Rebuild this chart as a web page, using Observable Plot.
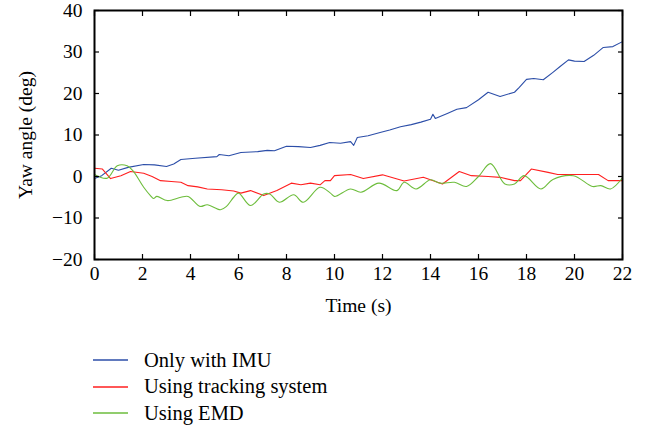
<!DOCTYPE html>
<html>
<head>
<meta charset="utf-8">
<script src="https://cdn.jsdelivr.net/npm/d3@7"></script>
<script src="https://cdn.jsdelivr.net/npm/@observablehq/plot@0.6"></script>
<style>
  html, body { margin: 0; padding: 0; background: #fff; }
  #chart { width: 646px; font-family: "Liberation Serif", "DejaVu Serif", serif; }
  .legend { margin-left: 93px; margin-top: 17px; font-size: 20.5px; color: #000; }
  .legend .row { display: flex; align-items: center; height: 26.5px; }
  .legend svg { margin-right: 16px; }
</style>
</head>
<body>
<div id="chart"></div>
<script>
const seriesNames = ["Only with IMU", "Using tracking system", "Using EMD"];
const seriesColors = ["#2c4ea8", "#ff1f1f", "#6dbd3c"];

const imuTime = [0,0.3,0.7,1.0,1.4,2.05,2.5,3.0,3.3,3.6,4.2,5.1,5.2,5.6,6.1,6.8,7.2,7.5,8.0,8.5,9.0,9.4,9.8,10.25,10.67,10.8,10.95,11.4,11.9,12.3,12.75,13.2,13.6,14.0,14.1,14.2,14.7,15.1,15.5,16.0,16.4,16.9,17.5,17.7,18.0,18.3,18.7,19.1,19.4,19.75,20.0,20.4,20.8,21.2,21.6,22];
const imuYaw = [-0.5,0.2,2,1.5,2.2,2.9,2.8,2.4,3.0,4.1,4.4,4.8,5.3,5.0,5.8,6.0,6.3,6.2,7.3,7.2,7.0,7.5,8.2,8.0,8.4,7.5,9.4,9.8,10.6,11.2,12.0,12.5,13.1,13.8,15.0,14.0,15.2,16.2,16.6,18.5,20.3,19.3,20.3,21.5,23.4,23.6,23.3,25.1,26.5,28.1,27.8,27.7,29.2,31.1,31.3,32.5];

const trackTime = [0,0.33,0.67,1.1,1.5,2.05,2.4,2.75,3.2,3.6,3.9,4.3,4.7,5.3,5.8,6.1,6.5,7.05,7.6,8.2,8.6,9.0,9.4,9.6,9.83,10.0,10.67,11.2,12.0,12.9,13.7,14.5,15.2,15.7,16.4,16.9,17.5,17.75,18.2,18.9,19.3,20.1,21.0,21.4,22];
const trackYaw = [2,1.8,-0.5,0.2,1.2,0.8,0,-1,-1.2,-1.4,-2.2,-2.5,-3,-3.2,-3.5,-4,-3.4,-4.6,-3.4,-1.6,-2,-1.6,-2,-1,-1,0.2,0.5,-0.5,0.4,-1.1,-0.2,-1.8,1.2,0.2,0,-0.2,-1,-1,1.8,1,0.5,0.5,0.5,-1,-1];

const emdTime = [0,0.53,0.95,1.36,1.6,2.05,2.33,2.46,2.6,3.03,3.6,3.9,4.4,4.7,5.25,5.5,5.8,6.0,6.5,7.05,7.3,7.7,8.3,8.7,9.4,9.83,10.0,10.67,11.1,11.85,12.6,12.9,13.4,14.0,14.4,15.0,15.5,16.0,16.5,17.1,17.5,17.9,18.6,19.1,19.95,20.75,21.1,21.5,22];
const emdYaw = [0.5,-0.4,2.6,2.6,1.4,-2.6,-4.6,-5.3,-4.8,-5.8,-5,-4.8,-7.2,-6.8,-8,-7.2,-5,-4,-7,-4.2,-4.2,-6.2,-4.4,-6.2,-2.6,-4,-4.8,-3,-3.8,-1.6,-3.4,-1.4,-3,-0.8,-1.6,-1.4,-2.4,0,3.1,-1.8,-1.8,0.2,-3,-0.7,0.2,-2.4,-2.2,-3,-0.3];

const xTicks = [0,2,4,6,8,10,12,14,16,18,20,22];
const yTicks = [-20,-10,0,10,20,30,40];

const toRows = (ts, vs, name) => ts.map((t, i) => ({t, v: vs[i], name}));
const imu = toRows(imuTime, imuYaw, seriesNames[0]);
const track = toRows(trackTime, trackYaw, seriesNames[1]);
const emd = toRows(emdTime, emdYaw, seriesNames[2]);

const yFmt = d => d < 0 ? "\u2212" + Math.abs(d) : String(d);

const plot = Plot.plot({
  width: 646,
  height: 330,
  marginLeft: 94,
  marginRight: 24,
  marginTop: 10,
  marginBottom: 71,
  style: {fontFamily: '"Liberation Serif", "DejaVu Serif", serif', fontSize: "19.5px", color: "#000", background: "#fff"},
  x: {domain: [0, 22]},
  y: {domain: [-20, 40]},
  marks: [
    Plot.line(imu, {x: "t", y: "v", stroke: seriesColors[0], strokeWidth: 1.1}),
    Plot.line(track, {x: "t", y: "v", stroke: seriesColors[1], strokeWidth: 1.1}),
    Plot.line(emd, {x: "t", y: "v", stroke: seriesColors[2], strokeWidth: 1.1, curve: "catmull-rom"}),
    Plot.axisX({anchor: "bottom", ticks: xTicks, tickSize: 0, tickPadding: 7, fontSize: 19.5, label: "Time (s)", labelAnchor: "center", labelArrow: "none", labelOffset: 52}),
    Plot.axisX({anchor: "bottom", ticks: xTicks, tickSize: -5, text: null, label: null, strokeWidth: 1.2}),
    Plot.axisX({anchor: "top", ticks: xTicks, tickSize: -5, text: null, label: null, strokeWidth: 1.2}),
    Plot.axisY({anchor: "left", ticks: yTicks, tickSize: 0, tickPadding: 12, tickFormat: yFmt, fontSize: 19.5, label: "Yaw angle (deg)", labelAnchor: "center", labelArrow: "none", labelOffset: 76}),
    Plot.axisY({anchor: "left", ticks: yTicks, tickSize: -5, text: null, label: null, strokeWidth: 1.2}),
    Plot.axisY({anchor: "right", ticks: yTicks, tickSize: -5, text: null, label: null, strokeWidth: 1.2}),
    Plot.frame({stroke: "#000", strokeWidth: 2})
  ]
});
document.getElementById("chart").appendChild(plot);

const legend = d3.select("#chart").append("div").attr("class", "legend");
seriesNames.forEach((name, i) => {
  const row = legend.append("div").attr("class", "row");
  const sw = row.append("svg").attr("width", 35).attr("height", 4);
  sw.append("line").attr("x1", 0).attr("x2", 35).attr("y1", 2).attr("y2", 2)
    .attr("stroke", seriesColors[i]).attr("stroke-width", 1.5);
  row.append("span").text(name);
});
</script>
</body>
</html>
